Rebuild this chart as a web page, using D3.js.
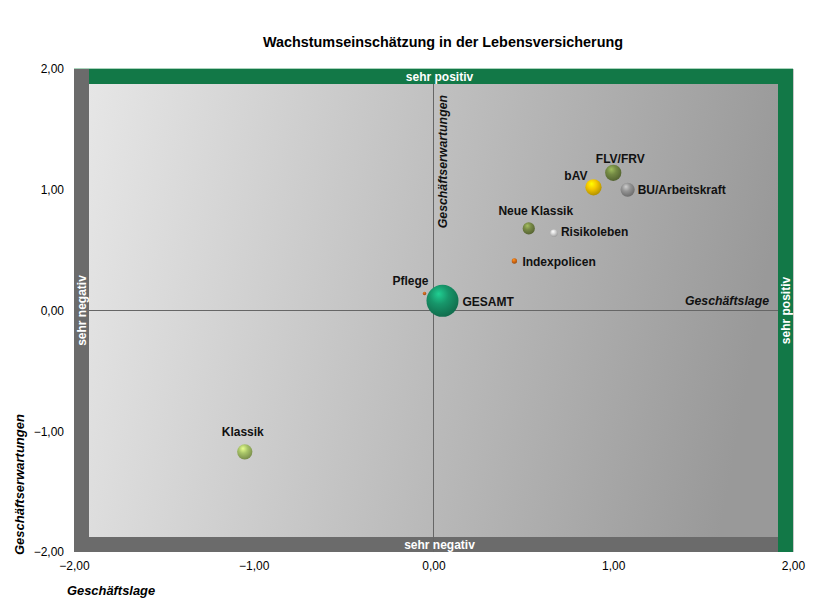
<!DOCTYPE html>
<html><head><meta charset="utf-8">
<script src="https://cdn.jsdelivr.net/npm/d3@7"></script>
<style>body{margin:0;background:#fff}svg{display:block}text{font-family:"Liberation Sans",Arial,sans-serif}</style>
</head><body><svg id="c" width="813" height="615"></svg>
<script>
const names = ["GESAMT","Pflege","Indexpolicen","Risikoleben","Neue Klassik","bAV","FLV/FRV","BU/Arbeitskraft","Klassik"];
const lage = [0.05,-0.05,0.45,0.67,0.53,0.89,1.00,1.08,-1.05];
const erwartung = [0.08,0.14,0.41,0.64,0.68,1.02,1.14,1.00,-1.17];
const sizes = [256,3,7,14,37,66,66,50,58];
const ticks = [-2,-1,0,1,2];
const title = "Wachstumseinschätzung in der Lebensversicherung";

const colors = ["#17966a","#c8641e","#dc6e14","#d8d8d8","#788a46","#f6c800","#748a44","#959595","#a8c468"];
const labelPos = [ // [dx, dy, anchor] relative to bubble center
  [20,5,"start"],[4,-9,"end"],[8,5,"start"],[7,3,"start"],[7,-13,"middle"],
  [-6,-7,"end"],[7,-10,"middle"],[10,4,"start"],[-2,-16,"middle"]];

const svg = d3.select("#c");
const x = d3.scaleLinear().domain([-2,2]).range([74,793]);
const y = d3.scaleLinear().domain([-2,2]).range([552,69]);
const r = d3.scaleSqrt().domain([0,256]).range([0,16]);
const band = 15;

const defs = svg.append("defs");
const bg = defs.append("linearGradient").attr("id","bg").attr("x1","0").attr("y1","0").attr("x2","1").attr("y2","0.12");
bg.append("stop").attr("offset","0%").attr("stop-color","#e8e8e8");
bg.append("stop").attr("offset","100%").attr("stop-color","#999999");

function shade(c,k){return d3.color(c).brighter(k).formatHex();}
colors.forEach((c,i)=>{
  const g = defs.append("radialGradient").attr("id","b"+i).attr("cx","0.42").attr("cy","0.35").attr("r","0.65").attr("fx","0.38").attr("fy","0.28");
  g.append("stop").attr("offset","0%").attr("stop-color",shade(c,0.9));
  g.append("stop").attr("offset","45%").attr("stop-color",c);
  g.append("stop").attr("offset","100%").attr("stop-color",d3.color(c).darker(0.9).formatHex());
});

// plot background
svg.append("rect").attr("x",x(-2)).attr("y",y(2)).attr("width",x(2)-x(-2)).attr("height",y(-2)-y(2)).attr("fill","url(#bg)");
// bands
svg.append("rect").attr("x",x(-2)).attr("y",y(2)).attr("width",band).attr("height",y(-2)-y(2)).attr("fill","#6b6b6b");
svg.append("rect").attr("x",x(-2)).attr("y",y(-2)-band).attr("width",x(2)-x(-2)-band).attr("height",band).attr("fill","#6b6b6b");
svg.append("rect").attr("x",x(-2)+band).attr("y",y(2)).attr("width",x(2)-x(-2)-band).attr("height",band).attr("fill","#127847");
svg.append("rect").attr("x",x(2)-band).attr("y",y(2)).attr("width",band).attr("height",y(-2)-y(2)).attr("fill","#127847");
svg.append("line").attr("x1",x(-2)).attr("x2",x(2)).attr("y1",y(2)-0.5).attr("y2",y(2)-0.5).attr("stroke","#a9d3bb").attr("stroke-width",1);
svg.append("line").attr("x1",x(2)+0.5).attr("x2",x(2)+0.5).attr("y1",y(2)).attr("y2",y(-2)).attr("stroke","#c8c8c8").attr("stroke-width",1);

// cross lines
svg.append("line").attr("x1",x(-2)+band).attr("x2",x(2)-band).attr("y1",y(0)).attr("y2",y(0)).attr("stroke","#666").attr("stroke-width",1);
svg.append("line").attr("x1",x(0)).attr("x2",x(0)).attr("y1",y(2)+band).attr("y2",y(-2)).attr("stroke","#666").attr("stroke-width",1);

// band labels
const bl = svg.append("g").attr("fill","#fff").attr("font-weight","bold").attr("font-size","12px").attr("text-anchor","middle");
bl.append("text").attr("x",x(0)+6).attr("y",y(2)+band-3).text("sehr positiv");
bl.append("text").attr("x",x(0)+6).attr("y",y(-2)-3).text("sehr negativ");
bl.append("text").attr("transform",`translate(${x(-2)+band-3},${y(0)}) rotate(-90)`).text("sehr negativ");
bl.append("text").attr("transform",`translate(${x(2)-3},${y(0)}) rotate(-90)`).text("sehr positiv");

// inner axis titles
svg.append("text").attr("transform",`translate(${x(0)+13},${y(2)+26}) rotate(-90)`).attr("text-anchor","end")
  .attr("font-size","12.3px").attr("font-weight","bold").attr("font-style","italic").attr("fill","#111").text("Geschäftserwartungen");
svg.append("text").attr("x",x(2)-24).attr("y",y(0)-6).attr("text-anchor","end")
  .attr("font-size","12.3px").attr("font-weight","bold").attr("font-style","italic").attr("fill","#111").text("Geschäftslage");

// axes
const fmt = d => d3.format(".2f")(d).replace(".",",");
const ya = svg.append("g").attr("transform",`translate(${x(-2)},0)`).call(d3.axisLeft(y).tickValues(ticks).tickFormat(fmt).tickSize(0).tickPadding(10));
const xa = svg.append("g").attr("transform",`translate(0,${y(-2)})`).call(d3.axisBottom(x).tickValues(ticks).tickFormat(fmt).tickSize(0).tickPadding(9));
[ya,xa].forEach(a=>{a.select(".domain").remove();a.selectAll("text").attr("font-size","12px").attr("fill","#000").attr("font-family","'Liberation Sans',Arial,sans-serif");});

// outer axis titles
svg.append("text").attr("x",67).attr("y",595).attr("font-size","12.9px").attr("font-weight","bold").attr("font-style","italic").text("Geschäftslage");
svg.append("text").attr("transform","translate(24,555) rotate(-90)").attr("font-size","13px").attr("font-weight","bold").attr("font-style","italic").text("Geschäftserwartungen");

// title
svg.append("text").attr("x",443).attr("y",47).attr("text-anchor","middle").attr("font-size","14.4px").attr("font-weight","bold").text(title);

// bubbles
const data = names.map((n,i)=>({n, x:lage[i], y:erwartung[i], s:sizes[i], i}));
const order = data.slice().sort((a,b)=>b.s-a.s);
svg.append("g").selectAll("circle").data(order).join("circle")
  .attr("cx",d=>x(d.x)).attr("cy",d=>y(d.y)).attr("r",d=>r(d.s))
  .attr("fill",d=>`url(#b${d.i})`);
svg.append("g").selectAll("text").data(data).join("text")
  .attr("x",d=>x(d.x)+labelPos[d.i][0]).attr("y",d=>y(d.y)+labelPos[d.i][1])
  .attr("text-anchor",d=>labelPos[d.i][2])
  .attr("font-size","12px").attr("font-weight","bold").attr("fill","#111").text(d=>d.n);
</script></body></html>
